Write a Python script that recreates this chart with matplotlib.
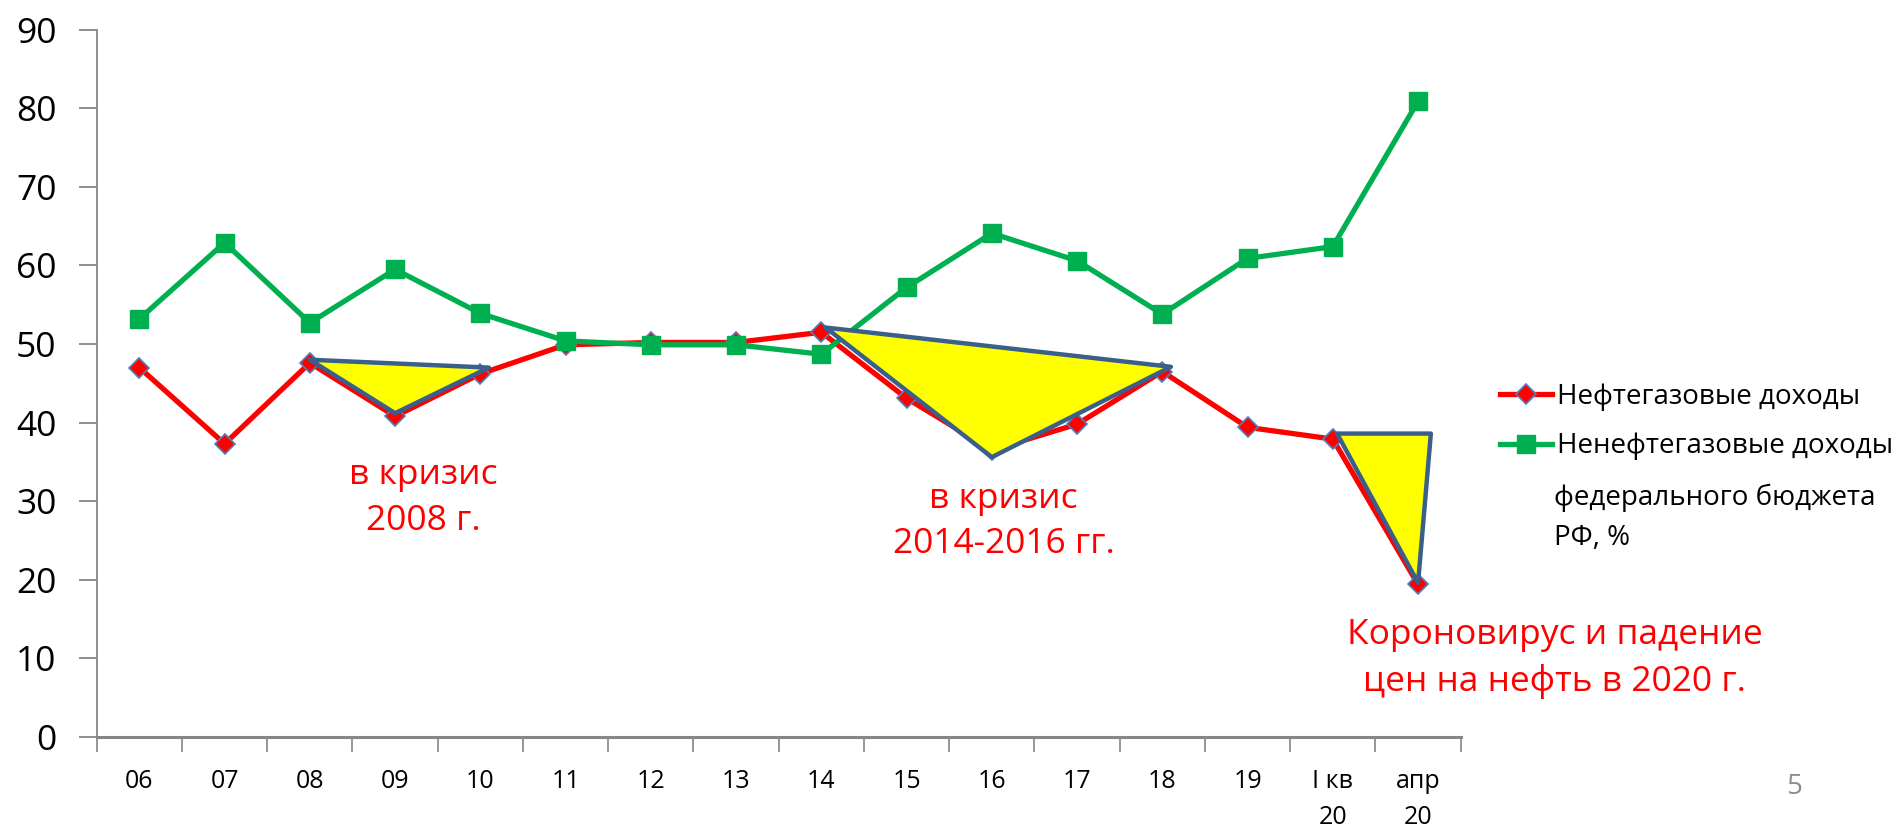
import matplotlib
matplotlib.use("Agg")
from matplotlib import pyplot as plt
from matplotlib.patches import Polygon
from matplotlib.lines import Line2D

# доли в доходах федерального бюджета, %
years = ['06', '07', '08', '09', '10', '11', '12', '13', '14', '15', '16', '17', '18', '19', 'I кв\n20', 'апр\n20']
oil_gas = [47.0, 37.3, 47.6, 40.8, 46.2, 49.9, 50.2, 50.2, 51.5, 43.1, 36.5, 39.8, 46.5, 39.4, 37.9, 19.4]
non_oil = [53.2, 62.9, 52.7, 59.5, 53.9, 50.4, 49.9, 49.9, 48.7, 57.2, 64.1, 60.6, 53.8, 60.9, 62.4, 80.9]

# треугольники "кризисов": (индекс категории, значение)
crisis_2008 = [(2.0, 48.0), (4.1, 47.0), (3.0, 41.2)]
crisis_2014 = [(8.05, 52.1), (12.1, 47.1), (10.0, 35.6)]
crisis_2020 = [(14.05, 38.6), (15.15, 38.6), (15.0, 19.6)]

crisis_labels = ['в кризис\n2008 г.', 'в кризис\n2014-2016 гг.', 'Короновирус и падение\nцен на нефть в 2020 г.']
crisis_label_pos = [(3.33, 30.4), (10.14, 27.4), (16.6, 10.0)]

txt_font = ['Open Sans', 'DejaVu Sans']

fig = plt.figure(figsize=(18.97, 8.27), dpi=100)
ax = fig.add_axes([0.051, 0.109, 0.719, 0.855])

x = list(range(len(years)))
ax.plot(x, oil_gas, color='#FF0000', lw=3.8, marker='D', ms=10,
        mfc='#FF0000', mec='#4F81BD', mew=1.2, zorder=3, label='Нефтегазовые доходы')
ax.plot(x, non_oil, color='#00B050', lw=3.8, marker='s', ms=13,
        mfc='#00B050', mec='#00B050', zorder=4, label='Ненефтегазовые доходы')

for tri in [crisis_2008, crisis_2014, crisis_2020]:
    ax.add_patch(Polygon(tri, closed=True, facecolor='#FFFF00', edgecolor='#3A5F8B',
                         lw=3.2, joinstyle='round', zorder=5))

for lab, (px, py) in zip(crisis_labels, crisis_label_pos):
    ax.text(px, py, lab, color='#FF0000', fontsize=25.5, ha='center', va='center',
            family=txt_font, linespacing=1.45, zorder=6, clip_on=False)

ax.set_xlim(-0.5, 15.5)
ax.set_ylim(0, 90)
ax.set_yticks(range(0, 91, 10))
ax.set_yticklabels([str(v) for v in range(0, 91, 10)], family=txt_font, fontsize=25.5)
ax.tick_params(axis='y', length=13, width=1.3, color='#868686', pad=16)
ax.set_xticks(x)
ax.set_xticklabels(years, family=txt_font, fontsize=18, linespacing=1.58, va='top')
ax.tick_params(axis='x', length=0, pad=23)
ax.set_xticks([i + 0.5 for i in range(-1, 16)], minor=True)
ax.tick_params(axis='x', which='minor', length=11, width=1.2, color='#868686')

for s in ['top', 'right']:
    ax.spines[s].set_visible(False)
ax.spines['left'].set_color('#868686')
ax.spines['left'].set_linewidth(1.3)
ax.spines['bottom'].set_color('#868686')
ax.spines['bottom'].set_linewidth(2.2)

handles = [
    Line2D([], [], color='#FF0000', lw=3.8, marker='D', ms=10, mfc='#FF0000', mec='#4F81BD', mew=1.2),
    Line2D([], [], color='#00B050', lw=3.8, marker='s', ms=13, mfc='#00B050', mec='#00B050'),
]
leg = fig.legend(handles, ['Нефтегазовые доходы', 'Ненефтегазовые доходы'],
                 loc='upper left', bbox_to_anchor=(0.7775, 0.567), frameon=False,
                 prop={'family': txt_font, 'size': 20}, handlelength=1.87,
                 handletextpad=0.18, labelspacing=0.77)
fig.text(0.819, 0.374, 'федерального бюджета\nРФ, %', family=txt_font, fontsize=20,
         ha='left', va='center', linespacing=1.55)
fig.text(0.946, 0.048, '5', family=txt_font, fontsize=20, color='#8C8C8C', ha='center', va='center')

fig.savefig('out.png', dpi=100)
